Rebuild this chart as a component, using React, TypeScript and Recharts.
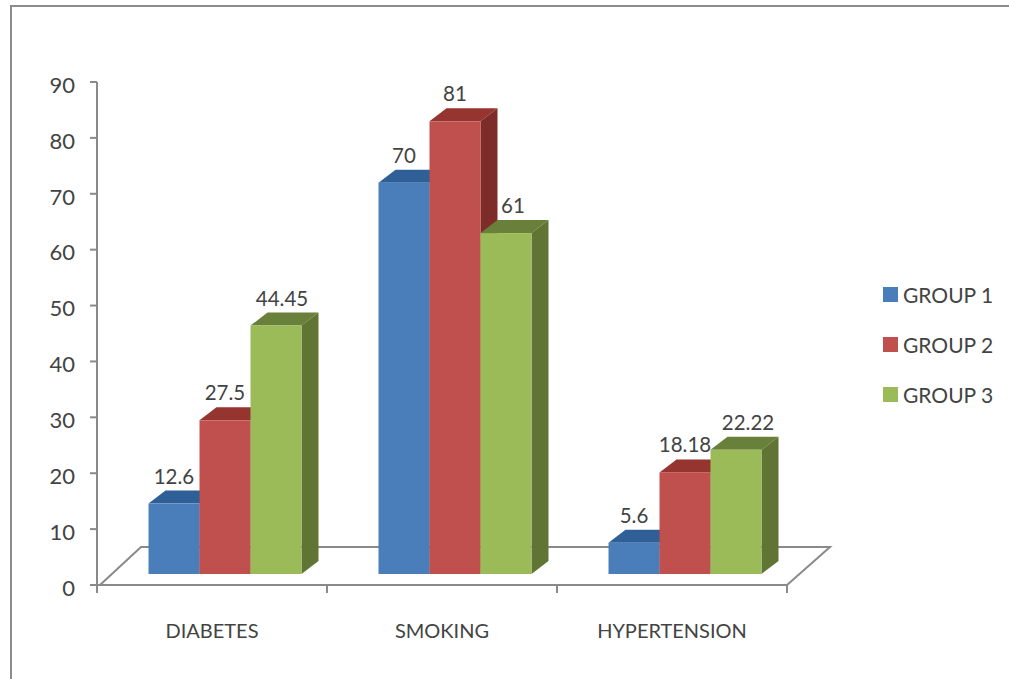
import { Bar, BarChart, LabelList, Legend, XAxis, YAxis, usePlotArea } from "recharts";

const categories = ["DIABETES", "SMOKING", "HYPERTENSION"];
const group1 = [12.6, 70, 5.6];
const group2 = [27.5, 81, 18.18];
const group3 = [44.45, 61, 22.22];
const yTicks = [0, 10, 20, 30, 40, 50, 60, 70, 80, 90];

const chartData = categories.map((category, i) => ({
  category,
  group1: group1[i],
  group2: group2[i],
  group3: group3[i],
}));

const AXIS = "#8a8a8a";
const TEXT = "#434343";
const FONT = "Lato, sans-serif";

// The boxes sit part way into the floor, so every face is shifted from the axis baseline
const SHIFT_X = 12.5;
const SHIFT_Y = -11;
const DEPTH_X = 17;
const DEPTH_Y = -13;

const BLUE = { front: "#4a7ebb", top: "#2f5f97", side: "#2f5f97" };
const RED = { front: "#c0504d", top: "#963430", side: "#7d2c2a" };
const GREEN = { front: "#9bbb59", top: "#68803a", side: "#607534" };

function box(colors: { front: string; top: string; side: string }) {
  return function Box(props: any) {
    const x = props.x + SHIFT_X;
    const y = props.y + SHIFT_Y;
    const { width: w, height: h } = props;
    const top = `${x},${y} ${x + DEPTH_X},${y + DEPTH_Y} ${x + w + DEPTH_X},${y + DEPTH_Y} ${x + w},${y}`;
    const side = `${x + w},${y} ${x + w + DEPTH_X},${y + DEPTH_Y} ${x + w + DEPTH_X},${y + h + DEPTH_Y} ${x + w},${y + h}`;
    return (
      <g>
        <polygon points={top} fill={colors.top} />
        <polygon points={side} fill={colors.side} />
        <rect x={x} y={y} width={w} height={h} fill={colors.front} />
      </g>
    );
  };
}

function valueLabel(nudges: number[]) {
  return function ValueLabel(props: any) {
    const { x, y, width, value, index } = props;
    return (
      <text
        x={x + width / 2 + SHIFT_X + nudges[index]}
        y={y + SHIFT_Y - 28}
        textAnchor="middle"
        dominantBaseline="central"
        fontFamily={FONT}
        fontSize={20.5}
        fill={TEXT}
      >
        {value}
      </text>
    );
  };
}

// Floor outline and the tick marks between categories
function Floor() {
  const plot = usePlotArea();
  if (!plot) return null;
  const left = plot.x;
  const right = plot.x + plot.width;
  const bottom = plot.y + plot.height;
  const band = plot.width / categories.length;
  return (
    <g fill="none" stroke={AXIS} strokeWidth={2}>
      <polyline points={`${left + 3},${bottom} ${left + 44},${bottom - 38} ${right + 43},${bottom - 38} ${right},${bottom}`} />
      {[0, 1, 2, 3].map((i) => (
        <line key={i} x1={left + band * i} x2={left + band * i} y1={bottom} y2={bottom + 8} />
      ))}
    </g>
  );
}

function LegendList({ payload }: any) {
  return (
    <ul style={{ listStyle: "none", margin: 0, padding: 0, fontFamily: FONT, fontSize: 21, color: TEXT }}>
      {(payload ?? []).map((entry: any) => (
        <li key={entry.value} style={{ display: "flex", alignItems: "center", height: 50 }}>
          <span style={{ width: 15, height: 15, marginRight: 5, background: entry.color }} />
          {entry.value}
        </li>
      ))}
    </ul>
  );
}

export default function App() {
  return (
    <div style={{ position: "absolute", left: 0, top: 0, width: 1009, height: 679, background: "#fff", overflow: "hidden" }}>
      <div
        style={{
          position: "absolute",
          left: 10,
          top: 5,
          width: 1009,
          height: 679,
          borderLeft: "2px solid #8c8c8c",
          borderTop: "2px solid #8c8c8c",
        }}
      />
      <div style={{ position: "absolute", left: 0, top: 0 }}>
        <BarChart
          width={1009}
          height={679}
          data={chartData}
          margin={{ top: 82, right: 222, bottom: 0, left: 0 }}
          barCategoryGap={38}
          barGap={0}
          barSize={51}
        >
          <XAxis
            dataKey="category"
            height={94}
            interval={0}
            stroke={AXIS}
            strokeWidth={2}
            tickLine={false}
            tickMargin={33}
            tick={{ fill: TEXT, fontFamily: FONT, fontSize: 20 }}
          />
          <YAxis
            domain={[0, 90]}
            ticks={yTicks}
            width={97}
            stroke={AXIS}
            strokeWidth={2}
            tickSize={7}
            tickMargin={15}
            tick={{ fill: TEXT, fontFamily: FONT, fontSize: 22, dy: 3 }}
          />
          <Floor />
          <Legend
            layout="vertical"
            align="center"
            verticalAlign="middle"
            wrapperStyle={{ left: 883, top: 269, width: 126, bottom: "auto", right: "auto" }}
            content={LegendList}
          />
          <Bar dataKey="group1" name="GROUP 1" fill={BLUE.front} shape={box(BLUE)} isAnimationActive={false}>
            <LabelList dataKey="group1" content={valueLabel([0, 0, 0])} />
          </Bar>
          <Bar dataKey="group2" name="GROUP 2" fill={RED.front} shape={box(RED)} isAnimationActive={false}>
            <LabelList dataKey="group2" content={valueLabel([0, 0, 0])} />
          </Bar>
          <Bar dataKey="group3" name="GROUP 3" fill={GREEN.front} shape={box(GREEN)} isAnimationActive={false}>
            <LabelList dataKey="group3" content={valueLabel([6, 7, 12])} />
          </Bar>
        </BarChart>
      </div>
    </div>
  );
}
